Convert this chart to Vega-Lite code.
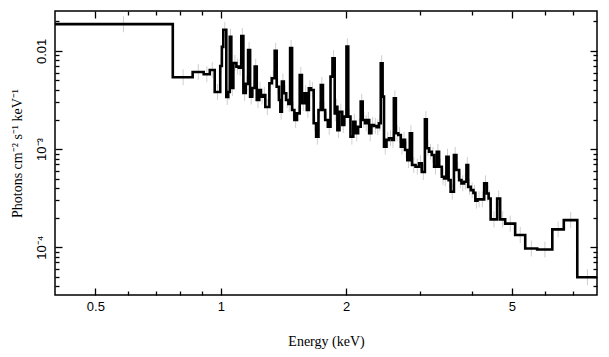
{
  "$schema": "https://vega.github.io/schema/vega-lite/v6.json",
  "width": 542,
  "height": 284,
  "autosize": {"type": "none"},
  "padding": {"left": 55, "top": 11, "right": 12, "bottom": 62},
  "background": "white",
  "config": {
    "view": {"stroke": "#000000", "strokeWidth": 1.5},
    "axis": {"grid": false, "domain": false, "tickColor": "#000000", "tickWidth": 1.3, "labelColor": "#000000", "labelFont": "Liberation Sans", "labelFontSize": 13, "titleFont": "Liberation Serif", "titleFontSize": 14, "titleFontWeight": "normal", "titleColor": "#000000"}
  },
  "data": {"values": [
    {"e": 0.4, "f": 0.01873, "c": 0.584, "lo": 0.0155, "hi": 0.0226},
    {"e": 0.767, "f": 0.00539, "c": 0.812, "lo": 0.00447, "hi": 0.00651},
    {"e": 0.856, "f": 0.0061, "c": 0.883, "lo": 0.00506, "hi": 0.00736},
    {"e": 0.91, "f": 0.00578, "c": 0.926, "lo": 0.0048, "hi": 0.00698},
    {"e": 0.941, "f": 0.0064, "c": 0.954, "lo": 0.00531, "hi": 0.00773},
    {"e": 0.967, "f": 0.00382, "c": 0.982, "lo": 0.00317, "hi": 0.00461},
    {"e": 0.997, "f": 0.00703, "c": 1.002, "lo": 0.00583, "hi": 0.00849},
    {"e": 1.006, "f": 0.011, "c": 1.01, "lo": 0.00913, "hi": 0.0133},
    {"e": 1.014, "f": 0.0164, "c": 1.0225, "lo": 0.0136, "hi": 0.0198},
    {"e": 1.031, "f": 0.00339, "c": 1.0365, "lo": 0.00281, "hi": 0.00409},
    {"e": 1.042, "f": 0.00382, "c": 1.0465, "lo": 0.00317, "hi": 0.00461},
    {"e": 1.051, "f": 0.0139, "c": 1.0555, "lo": 0.0115, "hi": 0.0168},
    {"e": 1.06, "f": 0.00419, "c": 1.066, "lo": 0.00348, "hi": 0.00506},
    {"e": 1.072, "f": 0.00754, "c": 1.081, "lo": 0.00626, "hi": 0.0091},
    {"e": 1.09, "f": 0.00692, "c": 1.0975, "lo": 0.00574, "hi": 0.00835},
    {"e": 1.105, "f": 0.00676, "c": 1.1125, "lo": 0.00561, "hi": 0.00816},
    {"e": 1.12, "f": 0.0142, "c": 1.1265, "lo": 0.0118, "hi": 0.0171},
    {"e": 1.133, "f": 0.00373, "c": 1.1405, "lo": 0.0031, "hi": 0.0045},
    {"e": 1.148, "f": 0.00461, "c": 1.1555, "lo": 0.00383, "hi": 0.00557},
    {"e": 1.163, "f": 0.0102, "c": 1.1695, "lo": 0.00847, "hi": 0.0123},
    {"e": 1.176, "f": 0.00342, "c": 1.183, "lo": 0.00284, "hi": 0.00413},
    {"e": 1.19, "f": 0.00419, "c": 1.198, "lo": 0.00348, "hi": 0.00506},
    {"e": 1.206, "f": 0.00692, "c": 1.213, "lo": 0.00574, "hi": 0.00835},
    {"e": 1.22, "f": 0.00316, "c": 1.2285, "lo": 0.00262, "hi": 0.00381},
    {"e": 1.237, "f": 0.004, "c": 1.2425, "lo": 0.00332, "hi": 0.00483},
    {"e": 1.248, "f": 0.00342, "c": 1.2565, "lo": 0.00284, "hi": 0.00413},
    {"e": 1.265, "f": 0.00356, "c": 1.272, "lo": 0.00295, "hi": 0.0043},
    {"e": 1.279, "f": 0.00268, "c": 1.2935, "lo": 0.00222, "hi": 0.00323},
    {"e": 1.308, "f": 0.00468, "c": 1.317, "lo": 0.00388, "hi": 0.00565},
    {"e": 1.326, "f": 0.00527, "c": 1.3365, "lo": 0.00437, "hi": 0.00636},
    {"e": 1.347, "f": 0.01, "c": 1.3545, "lo": 0.0083, "hi": 0.0121},
    {"e": 1.362, "f": 0.00432, "c": 1.3705, "lo": 0.00359, "hi": 0.00521},
    {"e": 1.379, "f": 0.00316, "c": 1.3845, "lo": 0.00262, "hi": 0.00381},
    {"e": 1.39, "f": 0.0024, "c": 1.396, "lo": 0.00199, "hi": 0.0029},
    {"e": 1.402, "f": 0.00486, "c": 1.4095, "lo": 0.00403, "hi": 0.00587},
    {"e": 1.417, "f": 0.0037, "c": 1.426, "lo": 0.00307, "hi": 0.00447},
    {"e": 1.435, "f": 0.00316, "c": 1.444, "lo": 0.00262, "hi": 0.00381},
    {"e": 1.453, "f": 0.00288, "c": 1.46, "lo": 0.00239, "hi": 0.00348},
    {"e": 1.467, "f": 0.0107, "c": 1.475, "lo": 0.00888, "hi": 0.0129},
    {"e": 1.483, "f": 0.0025, "c": 1.4925, "lo": 0.00208, "hi": 0.00302},
    {"e": 1.502, "f": 0.00198, "c": 1.5125, "lo": 0.00164, "hi": 0.00239},
    {"e": 1.523, "f": 0.00231, "c": 1.535, "lo": 0.00192, "hi": 0.00279},
    {"e": 1.547, "f": 0.00569, "c": 1.5565, "lo": 0.00472, "hi": 0.00687},
    {"e": 1.566, "f": 0.00293, "c": 1.5775, "lo": 0.00243, "hi": 0.00354},
    {"e": 1.589, "f": 0.0037, "c": 1.599, "lo": 0.00307, "hi": 0.00447},
    {"e": 1.609, "f": 0.0025, "c": 1.618, "lo": 0.00208, "hi": 0.00302},
    {"e": 1.627, "f": 0.00416, "c": 1.637, "lo": 0.00345, "hi": 0.00502},
    {"e": 1.647, "f": 0.004, "c": 1.659, "lo": 0.00332, "hi": 0.00483},
    {"e": 1.671, "f": 0.00183, "c": 1.6825, "lo": 0.00152, "hi": 0.00221},
    {"e": 1.694, "f": 0.00134, "c": 1.705, "lo": 0.00111, "hi": 0.00162},
    {"e": 1.716, "f": 0.0025, "c": 1.727, "lo": 0.00208, "hi": 0.00302},
    {"e": 1.738, "f": 0.0045, "c": 1.7485, "lo": 0.00374, "hi": 0.00543},
    {"e": 1.759, "f": 0.0025, "c": 1.77, "lo": 0.00208, "hi": 0.00302},
    {"e": 1.781, "f": 0.00198, "c": 1.7945, "lo": 0.00164, "hi": 0.00239},
    {"e": 1.808, "f": 0.00169, "c": 1.821, "lo": 0.0014, "hi": 0.00204},
    {"e": 1.834, "f": 0.00547, "c": 1.844, "lo": 0.00454, "hi": 0.0066},
    {"e": 1.854, "f": 0.00842, "c": 1.8655, "lo": 0.00699, "hi": 0.0102},
    {"e": 1.877, "f": 0.00231, "c": 1.883, "lo": 0.00192, "hi": 0.00279},
    {"e": 1.889, "f": 0.0027, "c": 1.897, "lo": 0.00224, "hi": 0.00326},
    {"e": 1.905, "f": 0.00156, "c": 1.916, "lo": 0.00129, "hi": 0.00188},
    {"e": 1.927, "f": 0.0024, "c": 1.942, "lo": 0.00199, "hi": 0.0029},
    {"e": 1.957, "f": 0.00176, "c": 1.968, "lo": 0.00146, "hi": 0.00213},
    {"e": 1.979, "f": 0.00214, "c": 1.991, "lo": 0.00178, "hi": 0.00258},
    {"e": 2.003, "f": 0.0111, "c": 2.013, "lo": 0.00921, "hi": 0.0134},
    {"e": 2.023, "f": 0.00214, "c": 2.0355, "lo": 0.00178, "hi": 0.00258},
    {"e": 2.048, "f": 0.00134, "c": 2.064, "lo": 0.00111, "hi": 0.00162},
    {"e": 2.08, "f": 0.0019, "c": 2.0925, "lo": 0.00158, "hi": 0.00229},
    {"e": 2.105, "f": 0.00145, "c": 2.12, "lo": 0.0012, "hi": 0.00175},
    {"e": 2.135, "f": 0.00169, "c": 2.151, "lo": 0.0014, "hi": 0.00204},
    {"e": 2.167, "f": 0.00304, "c": 2.179, "lo": 0.00252, "hi": 0.00367},
    {"e": 2.191, "f": 0.00198, "c": 2.205, "lo": 0.00164, "hi": 0.00239},
    {"e": 2.219, "f": 0.00183, "c": 2.2345, "lo": 0.00152, "hi": 0.00221},
    {"e": 2.25, "f": 0.00198, "c": 2.2605, "lo": 0.00164, "hi": 0.00239},
    {"e": 2.271, "f": 0.00145, "c": 2.2845, "lo": 0.0012, "hi": 0.00175},
    {"e": 2.298, "f": 0.00176, "c": 2.315, "lo": 0.00146, "hi": 0.00213},
    {"e": 2.332, "f": 0.00172, "c": 2.3495, "lo": 0.00143, "hi": 0.00208},
    {"e": 2.367, "f": 0.00167, "c": 2.382, "lo": 0.00139, "hi": 0.00201},
    {"e": 2.397, "f": 0.00183, "c": 2.409, "lo": 0.00152, "hi": 0.00221},
    {"e": 2.421, "f": 0.00749, "c": 2.4335, "lo": 0.00622, "hi": 0.00904},
    {"e": 2.446, "f": 0.00342, "c": 2.4555, "lo": 0.00284, "hi": 0.00413},
    {"e": 2.465, "f": 0.00106, "c": 2.482, "lo": 0.00088, "hi": 0.00128},
    {"e": 2.499, "f": 0.00124, "c": 2.5165, "lo": 0.00103, "hi": 0.0015},
    {"e": 2.534, "f": 0.00129, "c": 2.5555, "lo": 0.00107, "hi": 0.00156},
    {"e": 2.577, "f": 0.00124, "c": 2.59, "lo": 0.00103, "hi": 0.0015},
    {"e": 2.603, "f": 0.00329, "c": 2.6175, "lo": 0.00273, "hi": 0.00397},
    {"e": 2.632, "f": 0.00145, "c": 2.65, "lo": 0.0012, "hi": 0.00175},
    {"e": 2.668, "f": 0.00139, "c": 2.6865, "lo": 0.00115, "hi": 0.00168},
    {"e": 2.705, "f": 0.00106, "c": 2.7215, "lo": 0.00088, "hi": 0.00128},
    {"e": 2.738, "f": 0.00124, "c": 2.7535, "lo": 0.00103, "hi": 0.0015},
    {"e": 2.769, "f": 0.000977, "c": 2.7865, "lo": 0.000811, "hi": 0.00118},
    {"e": 2.804, "f": 0.000772, "c": 2.8235, "lo": 0.000641, "hi": 0.000932},
    {"e": 2.843, "f": 0.00145, "c": 2.8605, "lo": 0.0012, "hi": 0.00175},
    {"e": 2.878, "f": 0.000687, "c": 2.906, "lo": 0.00057, "hi": 0.000829},
    {"e": 2.934, "f": 0.00066, "c": 2.963, "lo": 0.000548, "hi": 0.000797},
    {"e": 2.992, "f": 0.000715, "c": 3.0145, "lo": 0.000593, "hi": 0.000863},
    {"e": 3.037, "f": 0.000583, "c": 3.0635, "lo": 0.000484, "hi": 0.000704},
    {"e": 3.09, "f": 0.00201, "c": 3.1065, "lo": 0.00167, "hi": 0.00243},
    {"e": 3.123, "f": 0.00102, "c": 3.1425, "lo": 0.000847, "hi": 0.00123},
    {"e": 3.162, "f": 0.000939, "c": 3.186, "lo": 0.000779, "hi": 0.00113},
    {"e": 3.21, "f": 0.000869, "c": 3.2305, "lo": 0.000721, "hi": 0.00105},
    {"e": 3.251, "f": 0.00066, "c": 3.2755, "lo": 0.000548, "hi": 0.000797},
    {"e": 3.3, "f": 0.000939, "c": 3.321, "lo": 0.000779, "hi": 0.00113},
    {"e": 3.342, "f": 0.00066, "c": 3.3675, "lo": 0.000548, "hi": 0.000797},
    {"e": 3.393, "f": 0.000522, "c": 3.4145, "lo": 0.000433, "hi": 0.00063},
    {"e": 3.436, "f": 0.000502, "c": 3.458, "lo": 0.000417, "hi": 0.000606},
    {"e": 3.48, "f": 0.000834, "c": 3.5015, "lo": 0.000692, "hi": 0.00101},
    {"e": 3.523, "f": 0.000483, "c": 3.5425, "lo": 0.000401, "hi": 0.000583},
    {"e": 3.562, "f": 0.000367, "c": 3.595, "lo": 0.000305, "hi": 0.000443},
    {"e": 3.628, "f": 0.000869, "c": 3.653, "lo": 0.000721, "hi": 0.00105},
    {"e": 3.678, "f": 0.000611, "c": 3.706, "lo": 0.000507, "hi": 0.000738},
    {"e": 3.734, "f": 0.000483, "c": 3.758, "lo": 0.000401, "hi": 0.000583},
    {"e": 3.782, "f": 0.000447, "c": 3.81, "lo": 0.000371, "hi": 0.00054},
    {"e": 3.838, "f": 0.000464, "c": 3.863, "lo": 0.000385, "hi": 0.00056},
    {"e": 3.888, "f": 0.000687, "c": 3.9065, "lo": 0.00057, "hi": 0.000829},
    {"e": 3.925, "f": 0.000412, "c": 3.954, "lo": 0.000342, "hi": 0.000497},
    {"e": 3.983, "f": 0.000382, "c": 4.012, "lo": 0.000317, "hi": 0.000461},
    {"e": 4.041, "f": 0.000358, "c": 4.0625, "lo": 0.000297, "hi": 0.000432},
    {"e": 4.084, "f": 0.000297, "c": 4.1075, "lo": 0.000247, "hi": 0.000359},
    {"e": 4.131, "f": 0.000307, "c": 4.168, "lo": 0.000255, "hi": 0.000371},
    {"e": 4.205, "f": 0.000307, "c": 4.2465, "lo": 0.000255, "hi": 0.000371},
    {"e": 4.288, "f": 0.000447, "c": 4.32, "lo": 0.000371, "hi": 0.00054},
    {"e": 4.352, "f": 0.000353, "c": 4.3735, "lo": 0.000293, "hi": 0.000426},
    {"e": 4.395, "f": 0.000314, "c": 4.4195, "lo": 0.000261, "hi": 0.000379},
    {"e": 4.444, "f": 0.000192, "c": 4.5255, "lo": 0.000159, "hi": 0.000232},
    {"e": 4.607, "f": 0.000314, "c": 4.6455, "lo": 0.000261, "hi": 0.000379},
    {"e": 4.684, "f": 0.000192, "c": 4.75, "lo": 0.000159, "hi": 0.000232},
    {"e": 4.816, "f": 0.000174, "c": 4.9525, "lo": 0.000144, "hi": 0.00021},
    {"e": 5.089, "f": 0.000133, "c": 5.2345, "lo": 0.00011, "hi": 0.000161},
    {"e": 5.38, "f": 0.000097, "c": 5.564, "lo": 0.0000805, "hi": 0.000117},
    {"e": 5.748, "f": 0.0000947, "c": 5.9985, "lo": 0.0000786, "hi": 0.000114},
    {"e": 6.249, "f": 0.000152, "c": 6.454, "lo": 0.000126, "hi": 0.000183},
    {"e": 6.659, "f": 0.000189, "c": 6.9165, "lo": 0.000157, "hi": 0.000228},
    {"e": 7.174, "f": 0.0000494, "c": 7.587, "lo": 0.000041, "hi": 0.0000597},
    {"e": 8.0, "f": 0.0000494}
  ]},
  "resolve": {"axis": {"x": "independent", "y": "independent"}},
  "layer": [
    {
      "transform": [{"filter": "isValid(datum.lo)"}],
      "mark": {"type": "rule", "color": "#cfcfcf", "strokeWidth": 1, "clip": true},
      "encoding": {
        "x": {"field": "c", "type": "quantitative", "scale": {"type": "log", "domain": [0.4, 8], "nice": false},
          "axis": {"orient": "bottom", "title": "Energy (keV)", "values": [0.5, 1, 2, 5], "tickSize": -7, "labelPadding": 12, "titlePadding": 21, "labelExpr": "datum.value < 0.9 ? '0.5' : format(datum.value, 'd')"}},
        "y": {"field": "lo", "type": "quantitative", "scale": {"type": "log", "domain": [0.0000326, 0.0255], "nice": false},
          "axis": {"orient": "left", "title": "Photons cm⁻² s⁻¹ keV⁻¹", "values": [0.0001, 0.001, 0.01], "tickSize": -7, "labelPadding": 14, "labelAngle": -90, "labelAlign": "center", "labelBaseline": "bottom", "titlePadding": 11,
            "labelExpr": "datum.value > 0.005 ? '0.01' : datum.value > 0.0005 ? '10⁻³' : '10⁻⁴'"}},
        "y2": {"field": "hi"}
      }
    },
    {
      "mark": {"type": "line", "interpolate": "step-after", "color": "#000000", "strokeWidth": 2.6, "clip": true},
      "encoding": {
        "x": {"field": "e", "type": "quantitative", "scale": {"type": "log"},
          "axis": {"orient": "top", "title": null, "values": [0.5, 1, 2, 5], "tickSize": -7, "labels": false}},
        "y": {"field": "f", "type": "quantitative", "scale": {"type": "log"},
          "axis": {"orient": "right", "title": null, "values": [0.0001, 0.001, 0.01], "tickSize": -7, "labels": false}}
      }
    },
    {
      "transform": [{"filter": "isValid(datum.lo)"}],
      "mark": {"type": "point", "opacity": 0, "clip": true},
      "encoding": {
        "x": {"field": "c", "type": "quantitative", "scale": {"type": "log"},
          "axis": {"orient": "bottom", "title": null, "values": [0.6, 0.7, 0.8, 0.9, 3, 4, 6, 7], "tickSize": -4, "labels": false}},
        "y": {"field": "f", "type": "quantitative", "scale": {"type": "log"},
          "axis": {"orient": "left", "title": null, "values": [0.00004, 0.00005, 0.00006, 0.00007, 0.00008, 0.00009, 0.0002, 0.0003, 0.0004, 0.0005, 0.0006, 0.0007, 0.0008, 0.0009, 0.002, 0.003, 0.004, 0.005, 0.006, 0.007, 0.008, 0.009, 0.02], "tickSize": -4, "labels": false}}
      }
    },
    {
      "transform": [{"filter": "isValid(datum.lo)"}],
      "mark": {"type": "point", "opacity": 0, "clip": true},
      "encoding": {
        "x": {"field": "c", "type": "quantitative", "scale": {"type": "log"},
          "axis": {"orient": "top", "title": null, "values": [0.6, 0.7, 0.8, 0.9, 3, 4, 6, 7], "tickSize": -4, "labels": false}},
        "y": {"field": "f", "type": "quantitative", "scale": {"type": "log"},
          "axis": {"orient": "right", "title": null, "values": [0.00004, 0.00005, 0.00006, 0.00007, 0.00008, 0.00009, 0.0002, 0.0003, 0.0004, 0.0005, 0.0006, 0.0007, 0.0008, 0.0009, 0.002, 0.003, 0.004, 0.005, 0.006, 0.007, 0.008, 0.009, 0.02], "tickSize": -4, "labels": false}}
      }
    }
  ]
}
